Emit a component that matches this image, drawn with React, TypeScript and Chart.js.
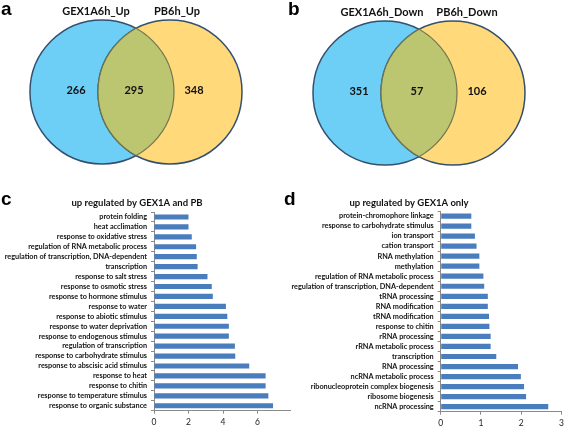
import React, { useEffect, useRef } from 'react';
import { Chart, registerables } from 'chart.js';

Chart.register(...registerables);

// ---------- data ----------
const UP_SETS = ['GEX1A6h_Up', 'PB6h_Up'];
const UP_COUNTS = [266, 295, 348]; // left only, shared, right only
const DOWN_SETS = ['GEX1A6h_Down', 'PB6h_Down'];
const DOWN_COUNTS = [351, 57, 106];

const C_TITLE = 'up regulated by GEX1A and PB';
const C_TERMS = [
  'protein folding',
  'heat acclimation',
  'response to oxidative stress',
  'regulation of RNA metabolic process',
  'regulation of transcription, DNA-dependent',
  'transcription',
  'response to salt stress',
  'response to osmotic stress',
  'response to hormone stimulus',
  'response to water',
  'response to abiotic stimulus',
  'response to water deprivation',
  'response to endogenous stimulus',
  'regulation of transcription',
  'response to carbohydrate stimulus',
  'response to abscisic acid stimulus',
  'response to heat',
  'response to chitin',
  'response to temperature stimulus',
  'response to organic substance',
];
const C_VALUES = [2.0, 2.0, 2.19, 2.44, 2.48, 2.53, 3.1, 3.35, 3.41, 4.17, 4.25, 4.34, 4.34, 4.69, 4.71, 5.52, 6.47, 6.47, 6.63, 6.9];
const C_MAX = 8;
const C_STEP = 2;

const D_TITLE = 'up regulated by GEX1A only';
const D_TERMS = [
  'protein-chromophore linkage',
  'response to carbohydrate stimulus',
  'ion transport',
  'cation transport',
  'RNA methylation',
  'methylation',
  'regulation of RNA metabolic process',
  'regulation of transcription, DNA-dependent',
  'tRNA processing',
  'RNA modification',
  'tRNA modification',
  'response to chitin',
  'rRNA processing',
  'rRNA metabolic process',
  'transcription',
  'RNA processing',
  'ncRNA metabolic process',
  'ribonucleoprotein complex biogenesis',
  'ribosome biogenesis',
  'ncRNA processing',
];
const D_VALUES = [0.76, 0.76, 0.85, 0.89, 0.96, 0.96, 1.06, 1.08, 1.17, 1.17, 1.2, 1.21, 1.24, 1.24, 1.38, 1.92, 1.99, 2.07, 2.12, 2.67];
const D_MAX = 3;
const D_STEP = 1;

// ---------- styles ----------
const FONT = 'Lato, "Open Sans", sans-serif';
const LETTER_FONT = 'bold 19px "Liberation Sans", Arial, sans-serif';
const BLUE = '#6DCFF6';
const YELLOW = '#FFD97A';
const OLIVE = '#BCC56F';
const EDGE = '#33506F';
const INNER_EDGE = '#707650';
const BAR = '#4A7DBD';
const AXIS = '#8A8A8A';
const VENN_R = 72;
const VENN_BORDER = 1.5;

// ---------- plugins ----------
const vennPlugin = {
  id: 'venn',
  afterDatasetsDraw(chart: any, _a: any, opts: any) {
    const meta = chart.getDatasetMeta(0);
    const [e1, e2] = meta.data;
    const ctx = chart.ctx;
    const r = VENN_R;
    // lens
    ctx.save();
    ctx.beginPath();
    ctx.arc(e1.x, e1.y, r, 0, Math.PI * 2);
    ctx.clip();
    ctx.beginPath();
    ctx.arc(e2.x, e2.y, r, 0, Math.PI * 2);
    ctx.fillStyle = OLIVE;
    ctx.fill();
    ctx.lineWidth = 1.2;
    ctx.strokeStyle = INNER_EDGE;
    ctx.stroke();
    ctx.restore();
    ctx.save();
    ctx.beginPath();
    ctx.arc(e2.x, e2.y, r, 0, Math.PI * 2);
    ctx.clip();
    ctx.beginPath();
    ctx.arc(e1.x, e1.y, r, 0, Math.PI * 2);
    ctx.lineWidth = 1.2;
    ctx.strokeStyle = INNER_EDGE;
    ctx.stroke();
    ctx.restore();

    // texts
    ctx.save();
    ctx.fillStyle = '#111';
    ctx.textAlign = 'center';
    ctx.textBaseline = 'middle';
    ctx.font = 'bold 11px ' + FONT;
    ctx.fillText(opts.sets[0], e1.x + opts.labelDx[0], e1.y - r - 9);
    ctx.fillText(opts.sets[1], e2.x + opts.labelDx[1], e2.y - r - 9);
    const counts = opts.counts;
    ctx.fillText(String(counts[0]), e1.x - 26, e1.y - 2);
    ctx.fillText(String(counts[1]), (e1.x + e2.x) / 2 - 2, e1.y - 2);
    ctx.fillText(String(counts[2]), e2.x + 24, e1.y - 2);
    ctx.font = LETTER_FONT;
    ctx.textAlign = 'left';
    ctx.textBaseline = 'alphabetic';
    ctx.fillStyle = '#000';
    ctx.fillText(opts.letter, opts.letterX, 15);
    ctx.restore();
  },
};

const panelTextPlugin = {
  id: 'panelText',
  afterDraw(chart: any, _a: any, opts: any) {
    const ctx = chart.ctx;
    ctx.save();
    ctx.fillStyle = '#111';
    ctx.textAlign = 'center';
    ctx.textBaseline = 'middle';
    ctx.font = 'bold 9.5px ' + FONT;
    ctx.fillText(opts.title, opts.titleX, 13);
    ctx.font = LETTER_FONT;
    ctx.textAlign = 'left';
    ctx.textBaseline = 'alphabetic';
    ctx.fillStyle = '#000';
    ctx.fillText(opts.letter, opts.letterX, 15);
    ctx.restore();
  },
};

// ---------- configs ----------
// The bubble controller insets the chart area by (radius + border) on every side,
// so the hidden scales are ranged to place the two set circles in the panel.
function vennConfig(
  sets: string[],
  counts: number[],
  letter: string,
  letterX: number,
  labelDx: number[],
  xRange: number[],
  yRange: number[]
) {
  return {
    type: 'bubble',
    data: {
      datasets: [
        {
          data: [
            { x: -0.5, y: 0, r: VENN_R },
            { x: 0.5, y: 0, r: VENN_R },
          ],
          backgroundColor: [BLUE, YELLOW],
          borderColor: EDGE,
          borderWidth: VENN_BORDER,
          clip: false,
        },
      ],
    },
    options: {
      animation: false,
      responsive: false,
      maintainAspectRatio: false,
      events: [],
      layout: { padding: 0 },
      plugins: {
        legend: { display: false },
        tooltip: { enabled: false },
        venn: { sets, counts, letter, letterX, labelDx },
      },
      scales: {
        x: { display: false, min: xRange[0], max: xRange[1] },
        y: { display: false, min: yRange[0], max: yRange[1] },
      },
    },
    plugins: [vennPlugin],
  };
}

function barConfig(p: any) {
  return {
    type: 'bar',
    data: {
      labels: p.terms,
      datasets: [
        {
          data: p.values,
          backgroundColor: BAR,
          borderWidth: 0,
          barPercentage: 0.52,
          categoryPercentage: 1,
        },
      ],
    },
    options: {
      indexAxis: 'y',
      animation: false,
      responsive: false,
      maintainAspectRatio: false,
      events: [],
      layout: { padding: { top: p.padTop, right: p.padRight, left: 0, bottom: 0 } },
      plugins: {
        legend: { display: false },
        tooltip: { enabled: false },
        panelText: { title: p.title, titleX: p.titleX, letter: p.letter, letterX: p.letterX },
      },
      scales: {
        x: {
          min: 0,
          max: p.max,
          ticks: {
            stepSize: p.step,
            font: { family: FONT, size: 8.5 },
            color: '#222',
            padding: 3,
            maxRotation: 0,
            callback: (v: number) => (v > p.lastLabel ? '' : String(v)),
          },
          grid: { drawOnChartArea: false, drawTicks: true, tickLength: 3, color: AXIS },
          border: { color: AXIS },
          afterFit: (s: any) => {
            s.height = p.xh;
          },
        },
        y: {
          ticks: {
            font: { family: FONT, size: 7.3, weight: 'bold' },
            color: '#111',
            padding: 4,
            autoSkip: false,
          },
          grid: { drawOnChartArea: false, drawTicks: true, tickLength: 3, color: AXIS },
          border: { color: AXIS },
          afterFit: (s: any) => {
            s.width = p.axisLeft;
          },
        },
      },
    },
    plugins: [panelTextPlugin],
  };
}

// ---------- components ----------
function ChartCanvas({ width, height, make }: { width: number; height: number; make: () => any }) {
  const ref = useRef<HTMLCanvasElement | null>(null);
  useEffect(() => {
    const chart = new Chart(ref.current as HTMLCanvasElement, make());
    return () => chart.destroy();
  }, []);
  return <canvas ref={ref} width={width} height={height} style={{ display: 'block', width, height }} />;
}

export default function App() {
  return (
    <div style={{ position: 'absolute', left: 0, top: 0, width: 567, height: 426, background: '#fff', overflow: 'hidden' }}>
      <div style={{ position: 'absolute', left: 0, top: 0 }}>
        <ChartCanvas
          width={283}
          height={190}
          make={() => vennConfig(UP_SETS, UP_COUNTS, 'a', 1, [-6, 7], [-0.919, 1.081], [-1.14, 0.86])}
        />
      </div>
      <div style={{ position: 'absolute', left: 283, top: 0 }}>
        <ChartCanvas
          width={283}
          height={190}
          make={() => vennConfig(DOWN_SETS, DOWN_COUNTS, 'b', 5, [-3, 14], [-0.919, 1.081], [-1.093, 0.907])}
        />
      </div>
      <div style={{ position: 'absolute', left: 0, top: 190, width: 291, height: 236, overflow: 'hidden' }}>
        <ChartCanvas
          width={295}
          height={236}
          make={() =>
            barConfig({
              terms: C_TERMS,
              values: C_VALUES,
              max: C_MAX,
              step: C_STEP,
              lastLabel: 6,
              title: C_TITLE,
              titleX: 137,
              letter: 'c',
              letterX: 1,
              padTop: 22,
              padRight: 0,
              xh: 15.3,
              axisLeft: 154,
            })
          }
        />
      </div>
      <div style={{ position: 'absolute', left: 283, top: 190 }}>
        <ChartCanvas
          width={284}
          height={236}
          make={() =>
            barConfig({
              terms: D_TERMS,
              values: D_VALUES,
              max: D_MAX,
              step: D_STEP,
              lastLabel: 3,
              title: D_TITLE,
              titleX: 126,
              letter: 'd',
              letterX: 1,
              padTop: 21,
              padRight: 3,
              xh: 14.3,
              axisLeft: 157.7,
            })
          }
        />
      </div>
    </div>
  );
}
